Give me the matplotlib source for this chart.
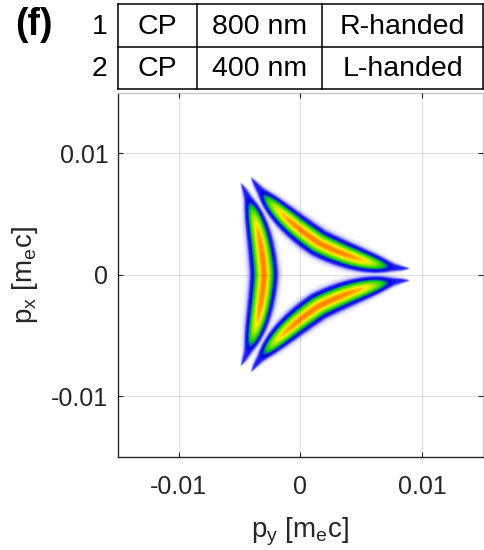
import numpy as np
import matplotlib.pyplot as plt
from matplotlib.colors import LinearSegmentedColormap

plt.rcParams['font.family'] = ['Liberation Sans', 'DejaVu Sans']
plt.rcParams['mathtext.fontset'] = 'custom'
plt.rcParams['mathtext.rm'] = 'Liberation Sans'
plt.rcParams['mathtext.it'] = 'Liberation Sans:italic'

# laser table
row_ids = ['1', '2']
polarization = ['CP', 'CP']
wavelength = ['800 nm', '400 nm']
handedness = ['R-handed', 'L-handed']

# axes [m_e c]
lim = 0.015
ticks = [-0.01, 0, 0.01]
tick_labels = ['-0.01', '0', '0.01']

# trefoil drift-momentum ridge (deltoid traced by -A(t))
cusp_dir = 0.0          # deg, direction of the first cusp
deltoid_r = 0.0030      # distance of each lobe centre from the origin
cusp_gap = 0.0005       # outward shift of the ridge towards the cusps
ridge_sigma = 0.00050   # transverse width at the lobe centre
width_power = 1.4       # how fast the lobe narrows towards the cusps
rate_kappa = 8.0        # steepness of the rate along the lobe
peak_level = 0.83
tail_level = 0.22       # weak tails running into the cusps

# colour scale: white -> blue -> green -> yellow -> orange
cmap_pos = [0.0, 0.03, 0.08, 0.17, 0.24, 0.30, 0.50, 0.67, 0.84, 1.0]
cmap_col = ['#ffffff', '#c8c8ff', '#2a2aff', '#0000d0', '#0070b0',
            '#00c814', '#8ee600', '#fff200', '#ff7800', '#ff2000']

# --- density on a momentum grid ---
n = 501
py = np.linspace(-lim, lim, n)
px = np.linspace(-lim, lim, n)
step = py[1] - py[0]
P = py[None, :] + 1j * px[:, None]
img = np.zeros((n, n))

t = (np.arange(1800) + 0.5) * 2 * np.pi / 1800
z = deltoid_r * (2 * np.exp(1j * t) + np.exp(-2j * t))
s3 = np.sin(1.5 * t)
s = np.abs(s3)
tang = -np.exp(-0.5j * t) * np.sign(s3)
nout = -1j * tang
ridge = (z + cusp_gap * np.abs(np.cos(1.5 * t)) * nout) * np.exp(1j * np.radians(cusp_dir))
ss = np.maximum(s, 1e-6)
amp = peak_level * ((1 - tail_level) * np.exp(-rate_kappa * (1 / ss - 1) ** 2)
                    + tail_level * ss ** 0.7)
sig = ridge_sigma * ss ** width_power

for R, a, sg in zip(ridge, amp, sig):
    if a < 0.01:
        continue
    w = 4 * sg
    i0 = max(int((R.real - w + lim) / step), 0)
    i1 = min(int((R.real + w + lim) / step) + 2, n)
    j0 = max(int((R.imag - w + lim) / step), 0)
    j1 = min(int((R.imag + w + lim) / step) + 2, n)
    sub = P[j0:j1, i0:i1]
    val = a * np.exp(-np.abs(sub - R) ** 2 / (2 * sg ** 2))
    img[j0:j1, i0:i1] = np.maximum(img[j0:j1, i0:i1], val)

cmap = LinearSegmentedColormap.from_list('wbgyo', list(zip(cmap_pos, cmap_col)))

fig = plt.figure(figsize=(4.85, 5.5), dpi=100)
ax = fig.add_axes([118 / 485, 93 / 550, 365 / 485, 364.5 / 550])
ax.imshow(img, extent=[-lim, lim, -lim, lim], origin='lower', cmap=cmap,
          vmin=0, vmax=1, interpolation='bilinear', aspect='auto')
ax.set_xlim(-lim, lim)
ax.set_ylim(-lim, lim)
ax.set_xticks(ticks)
ax.set_xticklabels(tick_labels)
ax.set_yticks(ticks)
ax.set_yticklabels(tick_labels)
ax.grid(True, color='#262626', alpha=0.15, lw=0.8)
ax.set_axisbelow(False)
ax.tick_params(direction='in', length=3.5, width=0.8, colors='#262626',
               labelsize=18, top=True, right=True)
ax.tick_params(axis='x', pad=13)
ax.tick_params(axis='y', pad=7)
for side in ['left', 'bottom']:
    ax.spines[side].set_color('#262626')
    ax.spines[side].set_linewidth(1.0)
for side in ['top', 'right']:
    ax.spines[side].set_color('#c8c8c8')
    ax.spines[side].set_linewidth(1.0)
ax.set_xlabel(r'$\mathregular{p_y\ [m_ec]}$', fontsize=20, color='#262626', labelpad=12)
ax.set_ylabel(r'$\mathregular{p_x\ [m_ec]}$', fontsize=20, color='#262626', labelpad=8)

# table and panel tag drawn in pixel coordinates
ov = fig.add_axes([0, 0, 1, 1], facecolor='none')
ov.set_xlim(0, 485)
ov.set_ylim(550, 0)
ov.axis('off')
xe = [118, 197, 322, 483]
ye = [4, 47, 89]
for x in xe:
    ov.plot([x, x], [ye[0], ye[-1]], color='black', lw=1.1, solid_capstyle='projecting')
for y in ye:
    ov.plot([xe[0], xe[-1]], [y, y], color='black', lw=1.1, solid_capstyle='projecting')
for k in range(2):
    yc = (ye[k] + ye[k + 1]) / 2 + 1
    ov.text(100, yc, row_ids[k], ha='center', va='center', fontsize=20.5)
    for c, txt in enumerate([polarization[k], wavelength[k], handedness[k]]):
        ov.text((xe[c] + xe[c + 1]) / 2, yc, txt, ha='center', va='center', fontsize=20.5)
ov.text(34, 25, '(f)', ha='center', va='center', fontsize=27, fontweight='bold')

fig.savefig('out.png', dpi=100)
